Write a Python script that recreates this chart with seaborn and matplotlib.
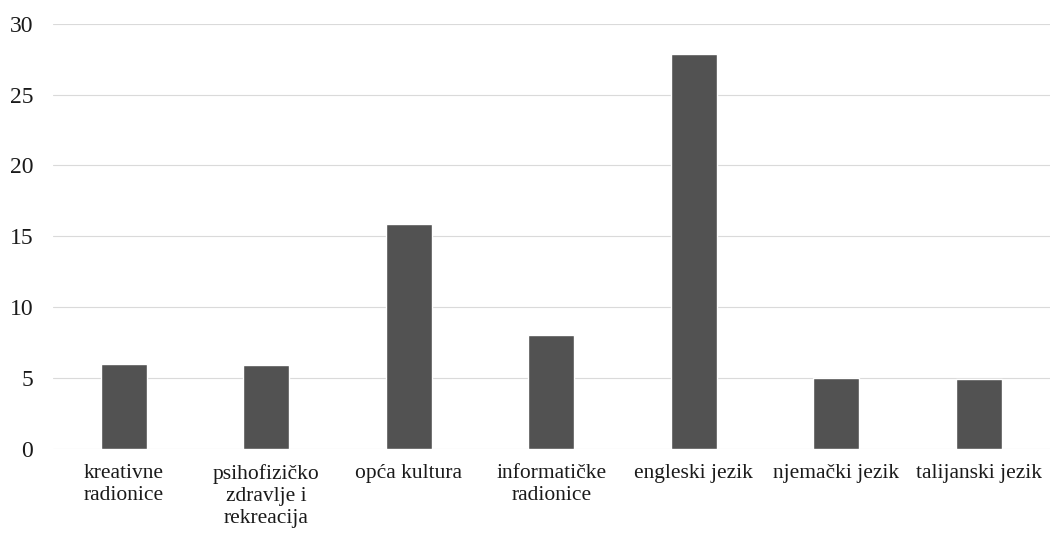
import matplotlib
matplotlib.use("Agg")
import matplotlib.pyplot as plt
import seaborn as sns
import pandas as pd

# podaci s grafikona
kategorije = ["kreativne\nradionice", "psihofizičko\nzdravlje i\nrekreacija", "opća kultura",
              "informatičke\nradionice", "engleski jezik", "njemački jezik", "talijanski jezik"]
vrijednosti = [6.0, 5.9, 15.9, 8.0, 27.9, 5.0, 4.9]
y_ticks = [0, 5, 10, 15, 20, 25, 30]

df = pd.DataFrame({"kategorija": kategorije, "vrijednost": vrijednosti})

sns.set_style("white")
plt.rcParams["font.family"] = ["Liberation Serif", "DejaVu Serif"]

fig = plt.figure(figsize=(10.5, 5.42), dpi=100)
ax = fig.add_axes([0.05, 0.172, 0.95, 0.784])

sns.barplot(data=df, x="kategorija", y="vrijednost", color="#525252",
            saturation=1, width=0.32, ax=ax)

ax.set_ylim(0, 30)
ax.set_yticks(y_ticks)
ax.set_xlim(-0.5, len(kategorije) - 0.5)
ax.yaxis.grid(True, color="#dadada", linewidth=0.8)
ax.set_axisbelow(True)
for s in ax.spines.values():
    s.set_visible(False)
ax.tick_params(axis="both", length=0, labelcolor="#1a1a1a")
ax.tick_params(axis="x", labelsize=15.5, pad=11)
ax.tick_params(axis="y", labelsize=17, pad=14)
ax.set_xlabel("")
ax.set_ylabel("")

plt.savefig("out.png", dpi=100)
